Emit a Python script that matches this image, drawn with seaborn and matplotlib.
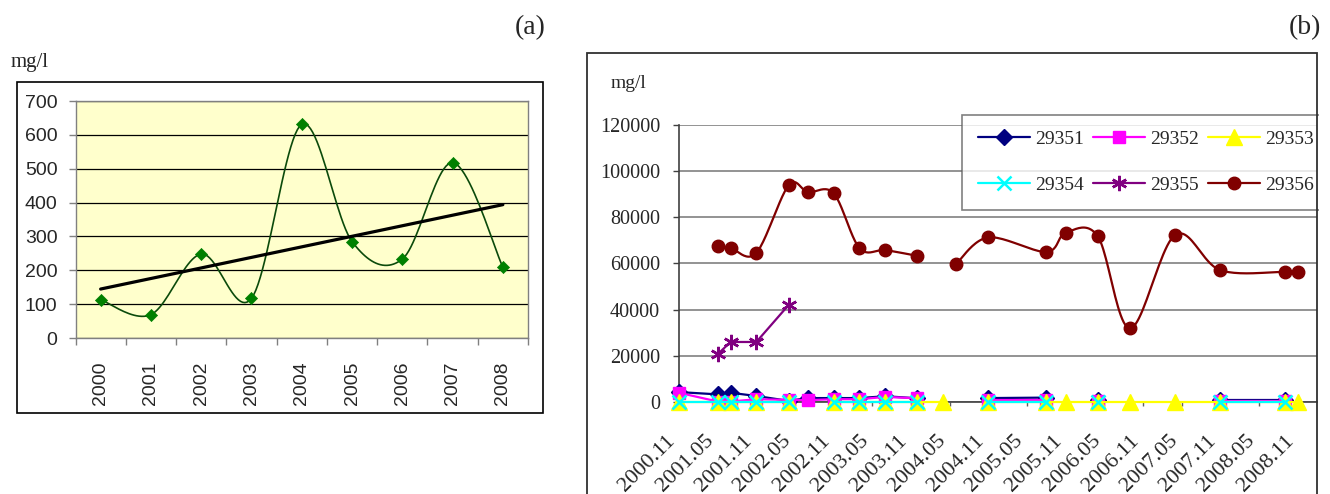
#!/usr/bin/env python3
"""
Two-panel concentration chart:
(a) yearly mean with smoothed line + linear trend, (b) six wells over time.
"""

import numpy as np
import matplotlib.pyplot as plt
from matplotlib.lines import Line2D
from matplotlib.patches import Rectangle
import seaborn as sns

# ---- panel (a) data ----
years = ['2000', '2001', '2002', '2003', '2004', '2005', '2006', '2007', '2008']
yearly_mgl = [113, 69, 248, 117, 631, 285, 233, 518, 209]

# ---- panel (b) data ----
sample_dates = ['2000.11', '2001.05', '2001.07', '2001.11', '2002.04', '2002.07', '2002.11',
                '2003.03', '2003.07', '2003.12', '2004.04', '2004.06', '2004.11', '2005.08',
                '2005.11', '2006.04', '2006.09', '2007.04', '2007.11', '2008.09', '2008.11']
nan = np.nan
w29351 = [4300, 3300, 4000, 2600, 500, 1700, 1700, 1700, 2500, 1600, nan, nan,
          1700, 1900, nan, 900, nan, nan, 700, 700, nan]
w29352 = [4000, 200, 200, 1200, 900, 800, 1200, 1200, 2200, 1600, nan, nan,
          800, 800, nan, 500, nan, nan, 300, 300, nan]
w29353 = [0, 0, 0, 0, 0, nan, 0, 0, 0, 0, 0, nan,
          0, 0, 0, 0, 0, 0, 0, 0, 0]
w29354 = [150, 150, 150, 150, 150, nan, 150, 150, 150, 150, nan, nan,
          150, 150, nan, 150, nan, nan, 150, 150, nan]
w29355 = [nan, 20700, 26000, 26000, 42000, nan, nan, nan, nan, nan, nan, nan,
          nan, nan, nan, nan, nan, nan, nan, nan, nan]
w29356 = [nan, 67500, 66700, 64600, 93800, 90900, 90400, 66700, 65800, 63300, nan, 59800,
          71300, 65000, 73300, 71700, 31900, 72400, 57100, 56400, 56400]
tick_dates = ['2000.11', '2001.05', '2001.11', '2002.05', '2002.11', '2003.05', '2003.11',
              '2004.05', '2004.11', '2005.05', '2005.11', '2006.05', '2006.11', '2007.05',
              '2007.11', '2008.05', '2008.11']


def month_index(s):
    y, m = s.split('.')
    return (int(y) - 2000) * 12 + int(m) - 11


def excel_smooth(x, y, sx, sy, n=24):
    """Bezier smoothing like Excel's 'smoothed line', done in screen-like units."""
    p = np.column_stack([np.asarray(x, float) * sx, np.asarray(y, float) * sy])
    if len(p) < 3:
        return np.asarray(x, float), np.asarray(y, float)
    pts = [p[0]]
    t = np.linspace(0, 1, n)[1:, None]
    for i in range(len(p) - 1):
        p0 = p[i - 1] if i > 0 else p[i]
        p1, p2 = p[i], p[i + 1]
        p3 = p[i + 2] if i + 2 < len(p) else p[i + 1]
        c1 = p1 + (p2 - p0) / 6.0
        c2 = p2 - (p3 - p1) / 6.0
        seg = ((1 - t) ** 3) * p1 + 3 * ((1 - t) ** 2) * t * c1 + 3 * (1 - t) * t ** 2 * c2 + t ** 3 * p2
        pts.extend(seg)
    pts = np.array(pts)
    return pts[:, 0] / sx, pts[:, 1] / sy


def segments(xs, ys):
    xs, ys = np.asarray(xs, float), np.asarray(ys, float)
    ok = ~np.isnan(ys)
    out, cur = [], []
    for i in range(len(ys)):
        if ok[i]:
            cur.append(i)
        elif cur:
            out.append(cur)
            cur = []
    if cur:
        out.append(cur)
    return [(xs[c], ys[c]) for c in out]


sns.set_style("white")
plt.rcParams['font.family'] = ['Liberation Serif', 'DejaVu Serif']

W, H = 1330, 494
fig = plt.figure(figsize=(W / 100, H / 100), dpi=100)


def px_rect(x0, y0, x1, y1):
    return [x0 / W, 1 - y1 / H, (x1 - x0) / W, (y1 - y0) / H]


# ================= panel (a) =================
ax1 = fig.add_axes(px_rect(75.5, 101, 528, 338))
ax1.set_facecolor('#FFFFCC')
xa = np.arange(len(years))

cx, cy = excel_smooth(xa, yearly_mgl, 50.0, 237 / 700)
sns.lineplot(x=cx, y=cy, ax=ax1, color='#0B4A0B', lw=1.2, sort=False, estimator=None, zorder=3)
sns.scatterplot(x=xa, y=yearly_mgl, ax=ax1, marker='D', s=38, color='#008000',
                edgecolor='#008000', linewidth=0.5, zorder=4)
sns.regplot(x=xa, y=np.array(yearly_mgl, float), ax=ax1, scatter=False, ci=None, truncate=True,
            line_kws=dict(color='black', lw=2.3, zorder=5))

ax1.set_xlim(-0.5, len(years) - 0.5)
ax1.set_ylim(0, 700)
ax1.set_yticks(range(0, 701, 100))
ax1.yaxis.grid(True, color='black', lw=0.9)
ax1.set_axisbelow(True)
ax1.set_xticks(np.arange(-0.5, len(years), 1.0))
ax1.set_xticklabels([])
ax1.set_xticks(xa, minor=True)
ax1.set_xticklabels(years, minor=True, rotation=90, va='top', ha='center',
                    family=['Liberation Sans', 'DejaVu Sans'], fontsize=14)
for lab in ax1.get_yticklabels():
    lab.set_family(['Liberation Sans', 'DejaVu Sans'])
    lab.set_fontsize(14)
ax1.tick_params(axis='x', which='major', bottom=True, length=5, width=1, color='#808080')
ax1.tick_params(axis='x', which='minor', bottom=True, length=0, pad=17)
ax1.tick_params(axis='y', left=True, length=5, width=1, color='#808080', pad=8)
ax1.set_xlabel('')
ax1.set_ylabel('')
for sp in ax1.spines.values():
    sp.set_color('#808080')
    sp.set_linewidth(1)

fig.add_artist(Rectangle((17 / W, 1 - 413 / H), 526 / W, 331 / H, transform=fig.transFigure,
                         fill=False, edgecolor='black', lw=1.2))
fig.text(11 / W, 1 - 62 / H, 'mg/l', fontsize=15, va='center', ha='left')
fig.text(530 / W, 1 - 28 / H, '(a)', fontsize=20, va='center', ha='center')

# ================= panel (b) =================
ax2 = fig.add_axes(px_rect(679, 125, 1317, 402))
xm = [month_index(d) for d in sample_dates]

series = [
    ('29351', w29351, '#000080', 'D', 8, False),
    ('29352', w29352, '#FF00FF', 's', 9, False),
    ('29353', w29353, '#FFFF00', '^', 12, False),
    ('29354', w29354, '#00FFFF', 'x', 10, False),
    ('29355', w29355, '#800080', (6, 2, 0), 11, False),
    ('29356', w29356, '#800000', 'o', 9, True),
]
sx2, sy2 = 638 / 99.0, 277 / 120000.0
handles = []
for k, (name, vals, col, mk, ms, smooth) in enumerate(series):
    for sxs, sys_ in segments(xm, vals):
        if smooth:
            lx, ly = excel_smooth(sxs, sys_, sx2, sy2)
        else:
            lx, ly = sxs, sys_
        ax2.plot(lx, ly, color=col, lw=1.6, zorder=3 + k, clip_on=False)
    ax2.plot(xm, vals, ls='none', marker=mk, ms=ms, color=col, mec=col,
             mew=1.8 if mk in ('x', (6, 2, 0)) else 1, zorder=3 + k, clip_on=False)
    handles.append(Line2D([], [], color=col, lw=1.6, marker=mk, ms=ms, mec=col,
                          mew=1.8 if mk in ('x', (6, 2, 0)) else 1, label=name))

ax2.set_xlim(0, 99)
ax2.set_ylim(0, 120000)
ax2.set_yticks(range(0, 120001, 20000))
ax2.set_yticklabels([str(v) for v in range(0, 120001, 20000)], fontsize=14.5)
ax2.set_xticks([month_index(d) for d in tick_dates])
ax2.set_xticklabels(tick_dates, rotation=45, ha='right', va='top', fontsize=16)
ax2.yaxis.grid(True, color='#808080', lw=1.2)
ax2.set_axisbelow(True)
ax2.tick_params(axis='x', bottom=True, length=3, width=1, color='#606060', pad=18)
ax2.tick_params(axis='y', left=True, length=4.5, width=1, color='#404040', pad=9)
for sp in ['top', 'right']:
    ax2.spines[sp].set_visible(False)
for sp in ['left', 'bottom']:
    ax2.spines[sp].set_color('#404040')
    ax2.spines[sp].set_linewidth(1.2)
    ax2.spines[sp].set_zorder(2)

# legend reads row by row in the reference; matplotlib fills columns first
order = [0, 3, 1, 4, 2, 5]
leg = ax2.legend(handles=[handles[i] for i in order], ncol=3, loc='upper left',
                 bbox_to_anchor=(962 / W, 1 - 115 / H), bbox_transform=fig.transFigure,
                 frameon=True, fancybox=False, fontsize=14, handlelength=2.7,
                 handletextpad=0.25, columnspacing=0.45, labelspacing=1.45,
                 borderpad=0.8, borderaxespad=0)
leg.get_frame().set_edgecolor('#606060')
leg.get_frame().set_linewidth(1.2)
leg.set_zorder(20)

# legend is cut by the chart border on the right
fig.add_artist(Rectangle((1318.5 / W, 0.0), (W - 1318.5) / W, 1.0, transform=fig.transFigure,
                         facecolor='white', edgecolor='none', zorder=30))
fig.add_artist(Rectangle((587 / W, -0.1), 730 / W, 1.1 - 53 / H, transform=fig.transFigure,
                         fill=False, edgecolor='#303030', lw=1.3, zorder=31))
fig.text(611 / W, 1 - 83 / H, 'mg/l', fontsize=14, va='center', ha='left')
fig.text(1305 / W, 1 - 28 / H, '(b)', fontsize=20, va='center', ha='center', zorder=32)

fig.savefig('out.png', dpi=100)
plt.close(fig)
